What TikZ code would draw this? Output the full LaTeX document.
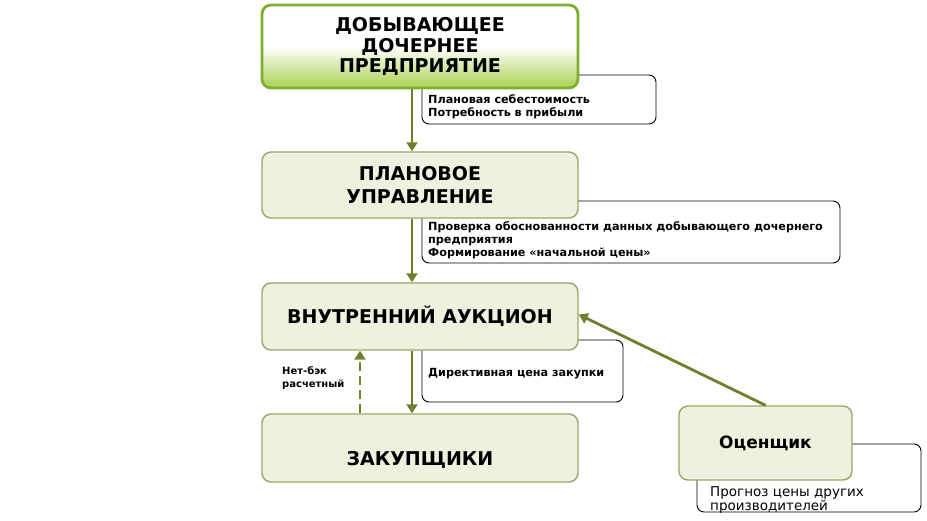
\documentclass[tikz,border=0pt]{standalone}
\usepackage{fontspec}
\setmainfont{DejaVu Sans}
\usetikzlibrary{arrows.meta,positioning}
\definecolor{boxfill}{HTML}{EEF1DE}
\definecolor{boxline}{HTML}{98A66A}
\definecolor{arrcol}{HTML}{6E7F2E}
\definecolor{topgreen}{HTML}{7FAE30}
\definecolor{toplight}{HTML}{A9D050}
\tikzset{
  titlefont/.style={font=\bfseries\fontsize{19}{21}\selectfont},
  mainbox/.style={draw=boxline, line width=1.4pt, fill=boxfill, rounded corners=9pt, minimum width=316pt, align=center, titlefont, inner sep=0pt},
  topbox/.style={draw=topgreen, line width=2.8pt, top color=white, bottom color=toplight, middle color=white, rounded corners=9pt, minimum width=316pt, minimum height=83pt, align=center, font=\bfseries\fontsize{19}{20.5}\selectfont, inner sep=0pt},
  callout/.style={draw=black, line width=0.9pt, fill=white, rounded corners=7pt, inner sep=0pt},
  calltext/.style={anchor=west, align=left, font=\bfseries\fontsize{11.2}{13}\selectfont, inner sep=0pt},
  arr/.style={draw=arrcol, line width=2.8pt, -{Triangle[length=9pt,width=11pt]}},
  darr/.style={arr, dash pattern=on 9pt off 5pt},
}
\begin{document}
\begin{tikzpicture}[x=1pt,y=-1pt]
\useasboundingbox (0,0) rectangle (927,521);
% callouts (behind)
\node[callout, minimum width=234pt, minimum height=49pt] (c1) at (539,99.5) {};
\node[calltext] (c1t) at (428,106.5) {Плановая себестоимость\\Потребность в прибыли};
\node[callout, minimum width=418pt, minimum height=62pt] (c2) at (631,232) {};
\node[calltext] (c2t) at (428,240) {Проверка обоснованности данных добывающего дочернего\\предприятия\\Формирование «начальной цены»};
\node[callout, minimum width=201pt, minimum height=62pt] (c3) at (522.5,371) {};
\node[calltext] (c3t) at (428,374) {Директивная цена закупки};
\node[callout, minimum width=224pt, minimum height=68pt] (c4) at (809,478) {};
\node[anchor=west, align=left, font=\fontsize{13.5}{14}\selectfont, inner sep=0pt] (c4t) at (710,500) {Прогноз цены других\\производителей};
% main boxes
\node[topbox] (dob) at (420,46.5) {ДОБЫВАЮЩЕЕ\\ДОЧЕРНЕЕ\\ПРЕДПРИЯТИЕ};
\node[mainbox, minimum height=66pt, font=\bfseries\fontsize{19}{23}\selectfont] (plan) at (420,185) {ПЛАНОВОЕ\\УПРАВЛЕНИЕ};
\node[mainbox, minimum height=67pt] (auk) at (420,316.5) {ВНУТРЕННИЙ АУКЦИОН};
\node[mainbox, minimum height=68pt] (zak) at (420,448) {};
\node[titlefont, inner sep=0pt] (zakt) at (420,460) {ЗАКУПЩИКИ};
\node[mainbox, minimum width=173pt, minimum height=74pt, font=\bfseries\fontsize{17}{19}\selectfont] (ots) at (765.5,443) {Оценщик};
% labels
\node[calltext, font=\bfseries\fontsize{10}{13}\selectfont] (net) at (282,378.5) {Нет-бэк\\расчетный};
% arrows
\draw[arr] ([xshift=-8pt]dob.south) -- ([xshift=-8pt]plan.north);
\draw[arr] ([xshift=-8pt]plan.south) -- ([xshift=-8pt]auk.north);
\draw[arr] ([xshift=-8pt]auk.south) -- ([xshift=-8pt]zak.north);
\draw[darr] ([xshift=-60pt]zak.north) -- ([xshift=-60pt]auk.south);
\draw[arr] (ots.north) -- ([yshift=2pt]auk.east);
\end{tikzpicture}
\end{document}
